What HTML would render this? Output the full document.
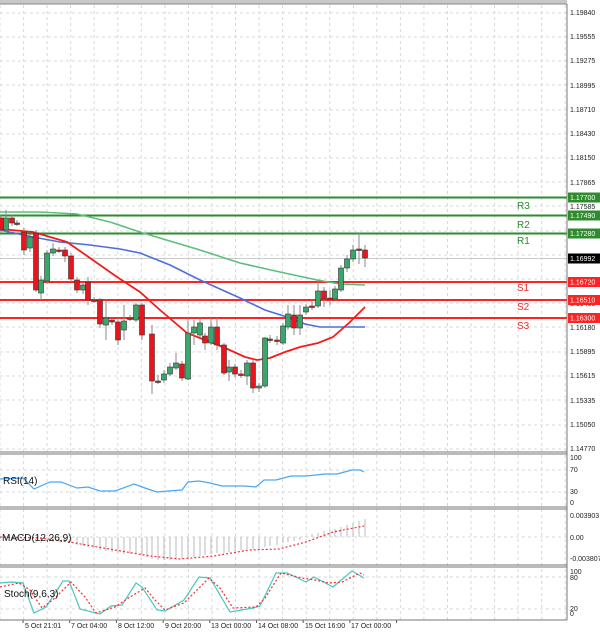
<!DOCTYPE html>
<html><head><meta charset="utf-8">
<style>
html,body{margin:0;padding:0;background:#fff;}
svg{display:block;font-family:"Liberation Sans",sans-serif;}
</style></head>
<body>
<svg id="c" width="600" height="635" viewBox="0 0 600 635" xmlns="http://www.w3.org/2000/svg">
<rect width="600" height="635" fill="#fff"/>
<rect x="0" y="0" width="567" height="4" fill="#c8c8c8"/>
<line x1="0" y1="4" x2="567" y2="4" stroke="#888" stroke-width="1"/>
<g id="grid" stroke="#d8d8d8" stroke-width="1" stroke-dasharray="3,3"></g>
<g id="levels"></g>
<g id="ma" fill="none" stroke-width="1.6"></g>
<g id="candles"></g>
<!-- panel separators -->
<g stroke="#777" stroke-width="1">
<line x1="0" y1="452" x2="567" y2="452"/><line x1="0" y1="454" x2="567" y2="454"/>
<line x1="0" y1="507" x2="567" y2="507"/><line x1="0" y1="509" x2="567" y2="509"/>
<line x1="0" y1="565" x2="567" y2="565"/><line x1="0" y1="567" x2="567" y2="567"/>
<line x1="0" y1="620" x2="567" y2="620"/>
<line x1="567" y1="4" x2="567" y2="620"/>
</g>
<g id="ind" fill="none"></g>
<g font-size="7" fill="#222" id="axis">
<text x="570" y="15">1.19840</text>
<text x="570" y="39">1.19555</text>
<text x="570" y="63">1.19275</text>
<text x="570" y="88">1.18995</text>
<text x="570" y="112">1.18710</text>
<text x="570" y="136">1.18430</text>
<text x="570" y="160">1.18150</text>
<text x="570" y="185">1.17865</text>
<text x="570" y="209">1.17585</text>
<text x="570" y="306">1.16460</text>
<text x="570" y="330">1.16180</text>
<text x="570" y="354">1.15895</text>
<text x="570" y="378">1.15615</text>
<text x="570" y="403">1.15335</text>
<text x="570" y="427">1.15050</text>
<text x="570" y="451">1.14770</text>
<text x="570" y="460">100</text>
<text x="570" y="472">70</text>
<text x="570" y="494">30</text>
<text x="570" y="505">0</text>
<text x="570" y="518">0.003903</text>
<text x="570" y="540">0.00</text>
<text x="570" y="561">-0.003807</text>
<text x="570" y="574">100</text>
<text x="570" y="580">80</text>
<text x="570" y="611">20</text>
<text x="570" y="616">0</text>
</g>
<g id="boxes" font-size="7"></g>
<g font-size="10" fill="#2e8b2e"><text x="517" y="209">R3</text><text x="517" y="228">R2</text><text x="517" y="244">R1</text></g>
<g font-size="10" fill="#ee2b2b"><text x="517" y="291">S1</text><text x="517" y="310">S2</text><text x="517" y="329">S3</text></g>
<g font-size="10" fill="#111"><text x="3" y="484">RSI(14)</text><text x="2" y="541">MACD(12,26,9)</text><text x="4" y="597">Stoch(9,6,3)</text></g>
<g font-size="7" fill="#222">
<text x="-14" y="628">5:00</text>
<text x="25" y="628">5 Oct 21:01</text>
<text x="71" y="628">7 Oct 04:00</text>
<text x="118" y="628">8 Oct 12:00</text>
<text x="165" y="628">9 Oct 20:00</text>
<text x="211" y="628">13 Oct 00:00</text>
<text x="258" y="628">14 Oct 08:00</text>
<text x="305" y="628">15 Oct 16:00</text>
<text x="351" y="628">17 Oct 00:00</text>
</g>
</svg>
<script>
var NS="http://www.w3.org/2000/svg";
function el(p,t,a){var e=document.createElementNS(NS,t);for(var k in a)e.setAttribute(k,a[k]);document.getElementById(p).appendChild(e);return e;}
// grid
for(var x=0;x<567;x+=23.55){el("grid","line",{x1:x.toFixed(1),y1:5,x2:x.toFixed(1),y2:620});}
var hy=[13,37,61,85,110,134,158,182,206,231,255,279,303,327,352,376,400,425,449];
hy.forEach(function(y){el("grid","line",{x1:0,y1:y,x2:567,y2:y});});
[470,492,537,577,609].forEach(function(y){el("grid","line",{x1:0,y1:y,x2:567,y2:y});});
// ticks
for(var i=0;i<9;i++){var tx=23+46.7*i;el("grid","line",{x1:tx,y1:620,x2:tx,y2:623,"stroke-dasharray":"none",stroke:"#555"});}
// levels
[[197.5,"#2e8b2e","1.17700"],[215.5,"#2e8b2e","1.17490"],[233.5,"#2e8b2e","1.17280"],[282,"#f22","1.16720"],[300,"#f22","1.16510"],[318,"#f22","1.16300"]].forEach(function(l){
 el("levels","line",{x1:0,y1:l[0],x2:567,y2:l[0],stroke:l[1],"stroke-width":2});
 el("boxes","rect",{x:568,y:l[0]-5,width:32,height:10,fill:l[1]});
 var t=el("boxes","text",{x:570,y:l[0]+2.5,fill:"#fff"});t.textContent=l[2];
});
el("boxes","rect",{x:568,y:253.5,width:32,height:10,fill:"#000"});
var tt=el("boxes","text",{x:570,y:261,fill:"#fff"});tt.textContent="1.16992";
el("levels","line",{x1:0,y1:258.5,x2:567,y2:258.5,stroke:"#ccc","stroke-width":1});
function pl(g,pts,c,w,d){var a={points:pts.map(function(p){return p.join(",")}).join(" "),stroke:c,"stroke-width":w||1.6,fill:"none"};if(d)a["stroke-dasharray"]=d;el(g,"polyline",a);}
pl("ma",[[0,212],[40,212],[77,214],[110,222],[143,233],[200,250],[240,263],[280,272],[317,280],[340,284],[365,285]],"#5cbf7f");
pl("ma",[[0,230],[33,237],[60,242],[90,245],[120,249],[140,253],[170,265],[200,280],[240,298],[265,310],[287,317],[305,324],[320,327],[365,327]],"#4a6ee0");
pl("ma",[[0,229],[33,232],[67,242],[90,258],[117,277],[140,292],[160,310],[187,333],[205,340],[223,347],[245,357],[257,360],[270,358],[285,352],[300,347],[318,343],[333,337],[350,322],[365,307]],"#f21c1c",1.8);
// candles [x, open y, close y, high y, low y]
var C=[[1,218,230,215,233],[6,230,218,210,232],[12,218,223,215,226],[17,223,223,220,226],[24,232,250,228,255],[30,248,237,234,252],[36,233,290,230,292],[41,293,280,276,300],[47,281,253,250,284],[53,253,249,243,256],[59,250,250,247,253],[65,250,256,247,262],[71,256,279,253,282],[77,280,290,277,293],[83,290,285,282,294],[88,282,300,277,305],[94,300,300,297,303],[100,300,324,298,328],[106,325,318,300,340],[112,320,322,318,325],[118,322,340,318,345],[124,330,321,305,340],[130,318,318,315,321],[136,320,305,303,322],[142,305,335,303,340],[152,334,381,325,394],[158,381,381,375,384],[164,380,374,370,383],[170,374,367,363,376],[176,368,363,353,370],[182,364,378,361,381],[188,379,333,318,380],[194,333,327,320,345],[200,335,323,318,337],[205,336,343,333,350],[211,343,327,318,345],[217,327,345,318,350],[224,345,373,343,375],[229,372,367,360,381],[235,367,374,364,377],[241,374,374,370,378],[247,376,363,360,385],[253,363,388,360,393],[259,388,386,383,392],[265,386,338,337,388],[270,339,339,335,343],[277,340,341,336,345],[283,343,326,323,345],[288,327,314,305,330],[294,315,328,305,335],[300,328,315,305,335],[306,312,307,304,315],[312,306,306,300,310],[318,306,291,280,308],[324,291,299,287,307],[330,298,298,290,305],[335,299,289,286,300],[341,290,268,265,292],[347,268,259,255,272],[353,259,250,245,262],[359,249,249,233,264],[365,250,258,245,267]];
C.forEach(function(c){
 var x=c[0],o=c[1],cl=c[2],up=cl<o;
 el("candles","line",{x1:x,y1:c[3],x2:x,y2:c[4],stroke:"#888","stroke-width":1});
 var t=Math.min(o,cl),h=Math.max(Math.abs(o-cl),1.5);
 el("candles","rect",{x:x-2.5,y:t,width:5,height:h,fill:up?"#3aa76a":"#e8161c",stroke:"#333","stroke-width":0.6});
});
// RSI
pl("ind",[[0,479],[23,478],[34,489],[50,482],[61,482],[77,488],[88,487],[100,491],[115,491],[134,484],[145,488],[157,492],[168,491],[182,490],[188,482],[199,481],[210,483],[222,486],[245,486],[256,487],[264,480],[276,480],[291,476],[306,476],[325,474],[337,474],[352,470],[360,470],[364,472]],"#4da6f0",1.2);
// MACD histogram
var mh=[[0,539],[6,540],[12,540],[17,540],[24,541],[30,541],[36,543],[41,543],[47,542],[53,542],[59,542],[65,542],[71,543],[77,545],[83,546],[88,547],[94,548],[100,550],[106,551],[112,552],[118,553],[124,554],[130,554],[136,554],[142,555],[147,557],[152,559],[158,560],[164,560],[170,560],[176,560],[182,559],[188,558],[194,557],[200,556],[205,555],[211,554],[217,553],[224,553],[229,552],[235,551],[241,550],[247,549],[253,549],[259,549],[265,547],[270,546],[277,545],[283,543],[288,542],[294,541],[300,540],[306,536],[312,534],[318,533],[324,531],[330,530],[335,529],[341,527],[347,525],[353,523],[359,521],[365,519]];
mh.forEach(function(m){el("ind","line",{x1:m[0],y1:537,x2:m[0],y2:m[1],stroke:"#bbb","stroke-width":1});});
pl("ind",[[0,537],[40,538],[69,542],[115,550],[150,556],[180,559],[214,556],[249,550],[279,549],[306,542],[333,532],[364,526]],"#f03030",1.2,"2,2");
// Stoch
pl("ind",[[0,583],[11,582],[23,583],[34,613],[46,607],[63,581],[69,581],[80,609],[100,614],[111,606],[122,605],[136,583],[142,587],[157,610],[165,611],[184,600],[199,577],[210,578],[230,612],[253,608],[260,606],[276,573],[287,573],[306,582],[314,577],[333,587],[352,571],[364,578]],"#4cc6c0",1.2);
pl("ind",[[0,587],[19,583],[30,590],[42,608],[55,598],[71,582],[85,597],[96,613],[115,607],[130,597],[145,588],[155,600],[165,610],[184,603],[209,578],[220,588],[233,608],[256,607],[265,598],[281,573],[302,578],[315,580],[329,583],[342,582],[360,573],[364,575]],"#f03030",1.2,"2,2");
</script>
</body></html>
